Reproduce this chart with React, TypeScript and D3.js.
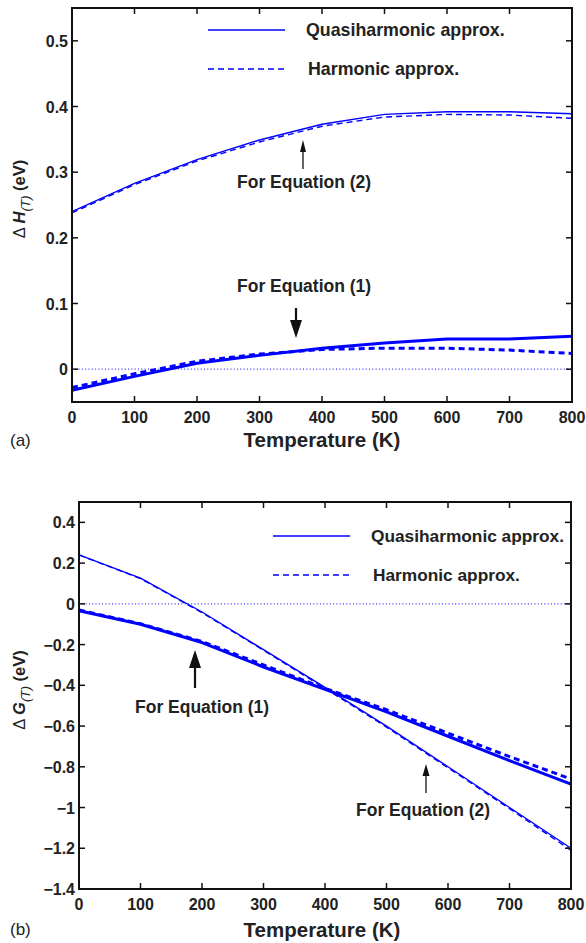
import React from "react";
import * as d3 from "d3";

// Temperature grid (K)
const temps = [0, 100, 200, 300, 400, 500, 600, 700, 800];

// Panel (a): enthalpy differences ΔH(T) in eV
const hQuasiEq1 = [-0.032, -0.011, 0.009, 0.021, 0.032, 0.04, 0.046, 0.046, 0.05];
const hHarmEq1 = [-0.028, -0.007, 0.012, 0.023, 0.03, 0.032, 0.032, 0.029, 0.024];
const hQuasiEq2 = [0.24, 0.283, 0.319, 0.349, 0.373, 0.388, 0.392, 0.392, 0.389];
const hHarmEq2 = [0.238, 0.281, 0.317, 0.346, 0.37, 0.384, 0.388, 0.387, 0.382];

// Panel (b): free energy differences ΔG(T) in eV
const gQuasiEq1 = [-0.034, -0.1, -0.19, -0.31, -0.42, -0.53, -0.65, -0.77, -0.885];
const gHarmEq1 = [-0.03, -0.098, -0.185, -0.3, -0.415, -0.52, -0.635, -0.75, -0.86];
const gQuasiEq2 = [0.24, 0.126, -0.04, -0.225, -0.41, -0.6, -0.8, -1.0, -1.2];
const gHarmEq2 = [0.24, 0.124, -0.043, -0.228, -0.415, -0.605, -0.805, -1.005, -1.21];

const xTicks = [0, 100, 200, 300, 400, 500, 600, 700, 800];
const hTicks = [0, 0.1, 0.2, 0.3, 0.4, 0.5];
const gTicks = [0.4, 0.2, 0, -0.2, -0.4, -0.6, -0.8, -1, -1.2, -1.4];

const legendLabels = ["Quasiharmonic approx.", "Harmonic approx."];

const BLUE = "#0000ff";
const TEXT = "#222";
const FONT = "'Liberation Sans', Arial, Helvetica, sans-serif";

type Series = { values: number[]; width: number; dashed: boolean };

type PanelProps = {
  x0: number;
  x1: number;
  y0: number;
  y1: number;
  yDomain: [number, number];
  yTicks: number[];
  yFmt: (v: number) => string;
  series: Series[];
  children?: React.ReactNode;
};

function fmtNum(v: number): string {
  const s = d3.format("~g")(v);
  return s.replace("-", "\u2212");
}

function Panel({ x0, x1, y0, y1, yDomain, yTicks, yFmt, series, children }: PanelProps) {
  const x = d3.scaleLinear().domain([0, 800]).range([x0, x1]);
  const y = d3.scaleLinear().domain(yDomain).range([y1, y0]);
  const line = d3
    .line<number>()
    .x((_, i) => x(temps[i]))
    .y((d) => y(d));
  const tl = 6;
  return (
    <g>
      {/* zero reference */}
      <line
        x1={x0}
        x2={x1}
        y1={y(0)}
        y2={y(0)}
        stroke={BLUE}
        strokeOpacity={0.8}
        strokeWidth={1.2}
        strokeDasharray="1,2.3"
      />
      {series.map((s, i) => (
        <path
          key={i}
          d={line(s.values) || ""}
          fill="none"
          stroke={BLUE}
          strokeWidth={s.width}
          strokeDasharray={s.dashed ? "6,4" : undefined}
          strokeLinejoin="round"
        />
      ))}
      {/* ticks on all four sides */}
      {xTicks.map((t) => (
        <g key={"x" + t}>
          <line x1={x(t)} x2={x(t)} y1={y1} y2={y1 - tl} stroke="#111" strokeWidth={1.5} />
          <line x1={x(t)} x2={x(t)} y1={y0} y2={y0 + tl} stroke="#111" strokeWidth={1.5} />
          <text
            x={x(t)}
            y={y1 + 21}
            textAnchor="middle"
            fontFamily={FONT}
            fontWeight="bold"
            fontSize={16}
            fill={TEXT}
          >
            {t}
          </text>
        </g>
      ))}
      {yTicks.map((t) => (
        <g key={"y" + t}>
          <line x1={x0} x2={x0 + tl} y1={y(t)} y2={y(t)} stroke="#111" strokeWidth={1.5} />
          <line x1={x1} x2={x1 - tl} y1={y(t)} y2={y(t)} stroke="#111" strokeWidth={1.5} />
          <text
            x={x0 - 4}
            y={y(t) + 6}
            textAnchor="end"
            fontFamily={FONT}
            fontWeight="bold"
            fontSize={16}
            fill={TEXT}
          >
            {yFmt(t)}
          </text>
        </g>
      ))}
      <rect x={x0} y={y0} width={x1 - x0} height={y1 - y0} fill="none" stroke="#111" strokeWidth={2} />
      {children}
    </g>
  );
}

function Arrow({
  x,
  from,
  to,
  shaft,
  headW,
  headL,
}: {
  x: number;
  from: number;
  to: number;
  shaft: number;
  headW: number;
  headL: number;
}) {
  const dir = to < from ? 1 : -1; // 1 = pointing up
  const base = to + dir * headL;
  return (
    <g>
      <line x1={x} x2={x} y1={from} y2={base} stroke="#111" strokeWidth={shaft} />
      <path d={`M${x},${to} L${x - headW / 2},${base} L${x + headW / 2},${base} Z`} fill="#111" />
    </g>
  );
}

function Legend({ x, y, gap, size }: { x: number; y: number; gap: number; size: number }) {
  return (
    <g fontFamily={FONT} fontWeight="bold" fontSize={size} fill={TEXT}>
      <line x1={x} x2={x + 77} y1={y} y2={y} stroke={BLUE} strokeWidth={1.6} />
      <text x={x + 98} y={y + 6}>
        {legendLabels[0]}
      </text>
      <line
        x1={x}
        x2={x + 77}
        y1={y + gap}
        y2={y + gap}
        stroke={BLUE}
        strokeWidth={1.6}
        strokeDasharray="6,4"
      />
      <text x={x + 100} y={y + gap + 6}>
        {legendLabels[1]}
      </text>
    </g>
  );
}

function YLabel({ x, y, sym }: { x: number; y: number; sym: string }) {
  return (
    <text
      transform={`translate(${x},${y}) rotate(-90)`}
      textAnchor="middle"
      fontFamily={FONT}
      fontSize={16.5}
      fill={TEXT}
    >
      <tspan>{"\u0394 "}</tspan>
      <tspan fontWeight="bold" fontStyle="italic">
        {sym}
      </tspan>
      <tspan fontStyle="italic" fontSize={12.5} dy={5}>
        (T)
      </tspan>
      <tspan fontWeight="bold" dy={-5}>
        {" (eV)"}
      </tspan>
    </text>
  );
}

export default function App() {
  return (
    <svg width={586} height={943} style={{ position: "absolute", left: 0, top: 0, background: "#fff" }}>
      <rect width={586} height={943} fill="#fff" />
      {/* Panel (a) */}
      <Panel
        x0={72}
        x1={572}
        y0={8}
        y1={402}
        yDomain={[-0.05, 0.55]}
        yTicks={hTicks}
        yFmt={fmtNum}
        series={[
          { values: hQuasiEq2, width: 1.4, dashed: false },
          { values: hHarmEq2, width: 1.4, dashed: true },
          { values: hQuasiEq1, width: 3, dashed: false },
          { values: hHarmEq1, width: 3, dashed: true },
        ]}
      >
        <Legend x={208} y={30} gap={39} size={17.8} />
        <text x={237} y={188} fontFamily={FONT} fontWeight="bold" fontSize={17.5} fill={TEXT}>
          For Equation (2)
        </text>
        <Arrow x={303} from={169} to={140} shaft={1.3} headW={6} headL={12} />
        <text x={237} y={292} fontFamily={FONT} fontWeight="bold" fontSize={17.5} fill={TEXT}>
          For Equation (1)
        </text>
        <Arrow x={296} from={308} to={338} shaft={2.2} headW={12} headL={18} />
      </Panel>
      <YLabel x={25} y={199} sym="H" />
      <text x={322} y={447} textAnchor="middle" fontFamily={FONT} fontWeight="bold" fontSize={20.5} fill={TEXT}>
        Temperature (K)
      </text>
      <text x={10} y={446} fontFamily={FONT} fontSize={17} fill={TEXT}>
        (a)
      </text>

      {/* Panel (b) */}
      <Panel
        x0={79}
        x1={571}
        y0={502}
        y1={889}
        yDomain={[-1.4, 0.5]}
        yTicks={gTicks}
        yFmt={fmtNum}
        series={[
          { values: gQuasiEq2, width: 1.4, dashed: false },
          { values: gHarmEq2, width: 1.4, dashed: true },
          { values: gQuasiEq1, width: 3, dashed: false },
          { values: gHarmEq1, width: 3, dashed: true },
        ]}
      >
        <Legend x={273} y={536} gap={39} size={17.3} />
        <text x={135} y={713} fontFamily={FONT} fontWeight="bold" fontSize={17.5} fill={TEXT}>
          For Equation (1)
        </text>
        <Arrow x={195} from={688} to={650} shaft={2.2} headW={12} headL={18} />
        <text x={356} y={816} fontFamily={FONT} fontWeight="bold" fontSize={17.5} fill={TEXT}>
          For Equation (2)
        </text>
        <Arrow x={426} from={793} to={764} shaft={1.3} headW={7} headL={12} />
      </Panel>
      <YLabel x={25} y={690} sym="G" />
      <text x={322} y={937} textAnchor="middle" fontFamily={FONT} fontWeight="bold" fontSize={20.5} fill={TEXT}>
        Temperature (K)
      </text>
      <text x={10} y={935} fontFamily={FONT} fontSize={17} fill={TEXT}>
        (b)
      </text>
    </svg>
  );
}
